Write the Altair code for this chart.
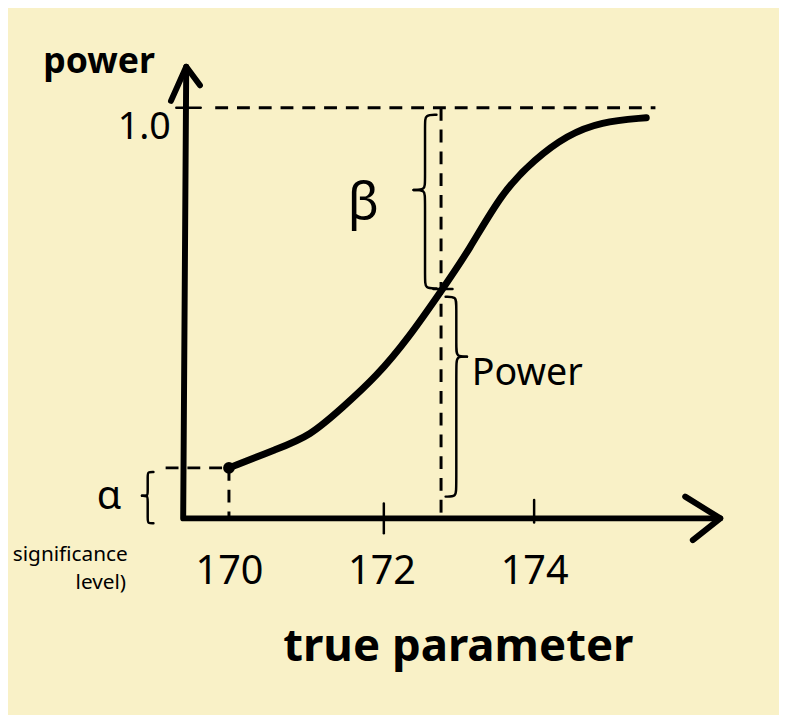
import altair as alt
import pandas as pd

# %%
# power curve
theta = [170.0, 170.63, 171.06, 171.50, 171.93, 172.36, 172.80,
         173.14, 173.58, 174.01, 174.43, 174.87, 175.47]
power = [0.123, 0.169, 0.200, 0.272, 0.345, 0.441, 0.559,
         0.651, 0.795, 0.875, 0.933, 0.966, 0.976]

tick_values = [170, 172, 174]
alpha = 0.123          # significance level
theta_1 = 172.78       # the true parameter where beta / power are marked
power_1 = 0.559

x_min, x_max = 169.4, 176.6
y_min, y_max = 0.0, 1.15
x_tip, y_tip = 176.44, 1.10

# annotation labels
ann_text = ["α", "significance", "level)", "β", "Power"]
ann_x = [168.43, 167.92, 168.32, 171.76, 173.91]
ann_y = [0.024, -0.104, -0.173, 0.730, 0.325]
ann_size = [40, 21, 21, 52, 38]

bg = "#F9F1C7"
ink = "black"
font = "Noto Sans"


# %%
def seg_rows(name, xs, ys):
    return [{"seg": name, "i": i, "x": a, "y": b} for i, (a, b) in enumerate(zip(xs, ys))]


def brace(name, x_end, x_point, y_top, y_bot, y_point, k=0.02):
    xm = (x_end + x_point) / 2
    rows = seg_rows(name + "_a",
                    [x_end, xm, xm, xm, xm, x_point],
                    [y_top, y_top, y_top - k, y_point + k, y_point, y_point])
    rows += seg_rows(name + "_b",
                     [x_point, xm, xm, xm, xm, x_end],
                     [y_point, y_point, y_point - k, y_bot + k, y_bot, y_bot])
    return rows


xs = alt.Scale(domain=[x_min, x_max], nice=False, zero=False)
ys = alt.Scale(domain=[y_min, y_max], nice=False, zero=False)

# same axis spec on every layer so they merge cleanly
X = alt.X("x:Q", scale=xs, axis=alt.Axis(
    values=tick_values, format="d", title="true parameter",
    domain=False, ticks=False, grid=False,
    labelFont=font, labelFontSize=40, labelColor=ink, labelPadding=34,
    titleFont=font, titleFontSize=46, titleFontWeight="bold", titleColor=ink,
    titlePadding=34,
))
Y = alt.Y("y:Q", scale=ys, axis=alt.Axis(
    values=[1.0], format=".1f", title="power",
    domain=False, ticks=False, grid=False,
    labelFont=font, labelFontSize=38, labelColor=ink, labelPadding=13,
    labelBaseline="middle", labelOffset=20,
    titleFont=font, titleFontSize=36, titleFontWeight="bold", titleColor=ink,
    titleAngle=0, titleAlign="left", titleBaseline="alphabetic",
    titleX=-142, titleY=27,
))

# axes drawn as arrows
axes_df = pd.DataFrame(
    seg_rows("axes", [169.44, x_min, x_tip], [y_tip, 0, 0])
    + seg_rows("arrow_y", [169.24, 169.44, 169.62], [1.017, y_tip, 1.055])
    + seg_rows("arrow_x", [175.98, x_tip, 176.08], [0.053, 0, -0.053])
)

curve_df = pd.DataFrame({"x": theta, "y": power, "i": range(len(theta)), "seg": "curve"})

dash_df = pd.DataFrame(
    seg_rows("alpha_h", [169.17, theta[0]], [alpha, alpha])
    + seg_rows("alpha_v", [theta[0], theta[0]], [alpha, 0.0])
    + seg_rows("one", [169.82, 175.59], [1.0, 1.0])
    + seg_rows("theta_1", [theta_1, theta_1], [1.0, 0.01])
)

thin_df = pd.DataFrame(
    seg_rows("tick_one", [169.31, 169.63], [1.0, 1.0])
    + seg_rows("tick_172", [172.03, 172.03], [0.036, -0.036])
    + seg_rows("tick_174", [174.0, 174.0], [0.045, -0.01])
    + seg_rows("cross", [172.68, 172.93], [power_1, power_1])
    + brace("beta", 172.72, 172.42, 0.983, 0.56, 0.80)
    + brace("pow", 172.84, 173.12, 0.54, 0.053, 0.394)
    + brace("alpha", 169.01, 168.86, 0.113, -0.012, 0.055, k=0.008)
)

dot_df = pd.DataFrame({"x": [theta[0]], "y": [alpha]})

text_df = pd.DataFrame({"x": ann_x, "y": ann_y, "label": ann_text, "size": ann_size})

# %%
axes = (
    alt.Chart(axes_df)
    .mark_line(color=ink, strokeWidth=6, strokeCap="round", strokeJoin="round", clip=False)
    .encode(x=X, y=Y, detail="seg:N", order="i:Q")
)

curve = (
    alt.Chart(curve_df)
    .mark_line(color=ink, strokeWidth=7, strokeCap="round", interpolate="basis", clip=False)
    .encode(x=X, y=Y, order="i:Q")
)

dashed = (
    alt.Chart(dash_df)
    .mark_line(color=ink, strokeWidth=3, strokeDash=[13, 9], clip=False)
    .encode(x=X, y=Y, detail="seg:N", order="i:Q")
)

thin = (
    alt.Chart(thin_df)
    .mark_line(color=ink, strokeWidth=2.5, strokeCap="round", interpolate="basis", clip=False)
    .encode(x=X, y=Y, detail="seg:N", order="i:Q")
)

dot = (
    alt.Chart(dot_df)
    .mark_point(filled=True, color=ink, size=140, opacity=1)
    .encode(x=X, y=Y)
)

labels = (
    alt.Chart(text_df)
    .mark_text(font=font, color=ink, align="center", baseline="alphabetic")
    .encode(
        x=X,
        y=Y,
        text="label:N",
        size=alt.Size("size:Q", scale=None, legend=None),
    )
)

chart = (
    alt.layer(axes, curve, dashed, thin, dot, labels)
    .properties(
        width=555,
        height=477,
        autosize=alt.AutoSizeParams(type="none"),
        padding={"left": 177, "top": 35, "right": 47, "bottom": 195},
        background=bg,
    )
    .configure_view(strokeWidth=0)
)

chart.save("out.html", embed_options={"renderer": "svg", "actions": False})
